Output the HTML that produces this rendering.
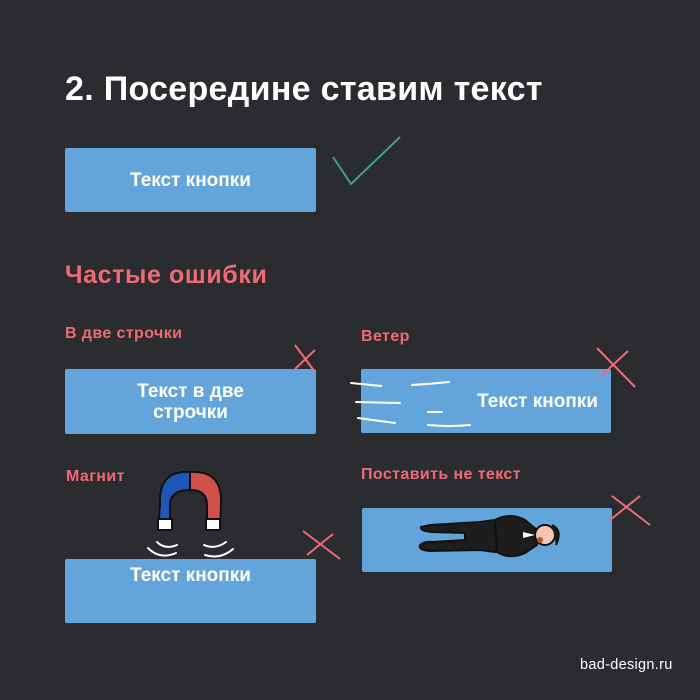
<!DOCTYPE html>
<html><head><meta charset="utf-8"><style>
body{margin:0;width:700px;height:700px;background:#2b2c30;position:relative;overflow:hidden;font-family:"Liberation Sans","DejaVu Sans",sans-serif}
.t{position:absolute;white-space:nowrap;font-weight:bold}
.b{position:absolute;background:#63a5db;border-radius:2px;color:#fff;font-weight:bold;font-size:19px;display:flex;align-items:center;justify-content:center;text-align:center;line-height:21px}
.p{color:#ee6b73;letter-spacing:0.4px}
svg{position:absolute;left:0;top:0}
</style></head><body>
<div class="t" style="left:65px;top:70px;font-size:34px;color:#fff;letter-spacing:0.3px">2. Посередине ставим текст</div>
<div class="b" style="left:65px;top:148px;width:251px;height:64px">Текст кнопки</div>
<div class="t p" style="left:65px;top:261px;font-size:25px;letter-spacing:0.6px">Частые ошибки</div>
<div class="t p" style="left:65px;top:325px;font-size:16px">В две строчки</div>
<div class="b" style="left:65px;top:369px;width:251px;height:65px">Текст в две<br>строчки</div>
<div class="t p" style="left:361px;top:328px;font-size:16px">Ветер</div>
<div class="b" style="left:361px;top:369px;width:250px;height:64px;justify-content:flex-end;padding-right:13px;box-sizing:border-box">Текст кнопки</div>
<div class="t p" style="left:66px;top:468px;font-size:16px">Магнит</div>
<div class="b" style="left:65px;top:559px;width:251px;height:64px;align-items:flex-start;padding-top:6px;box-sizing:border-box">Текст кнопки</div>
<div class="t p" style="left:361px;top:466px;font-size:16px">Поставить не текст</div>
<div class="b" style="left:362px;top:508px;width:250px;height:64px"></div>
<div class="t" style="left:580px;top:657px;font-size:14.5px;color:#fff;font-weight:normal;letter-spacing:0.3px">bad-design.ru</div>
<svg width="700" height="700" fill="none">
<polyline points="333,157 351,184 400,137" stroke="#3aa57f" stroke-width="2"/>
<g stroke="#ee6b73" stroke-width="2">
<line x1="295" y1="345" x2="315" y2="372"/><line x1="315" y1="350" x2="295" y2="369"/>
<line x1="597" y1="348" x2="635" y2="387"/><line x1="628" y1="351" x2="600" y2="377"/>
<line x1="303" y1="531" x2="340" y2="559"/><line x1="307" y1="555" x2="333" y2="534"/>
<line x1="612" y1="496" x2="650" y2="525"/><line x1="610" y1="520" x2="640" y2="496"/>
</g>
<g stroke="#fff" stroke-width="2" stroke-linecap="round">
<path d="M351 383 L381 386"/><path d="M412 385 Q430 384 449 382"/>
<path d="M356 402 L400 403"/><path d="M428 412 L442 412"/>
<path d="M358 418 L395 423"/><path d="M428 425 Q450 427 470 425"/>
<path d="M148 548 Q160 560 176 553"/><path d="M157 542 Q165 550 177 545"/>
<path d="M204 545 Q215 550 226 542"/><path d="M205 555 Q220 560 233 549"/>
</g>
<path d="M170 530 L170 505 Q170 490 190 490 L190 472 Q158 470 160 505 L158 530 Z" fill="#1f56b7" stroke="#111" stroke-width="2"/>
<path d="M190 490 Q207 490 207 505 L207 528 L220 528 L221 505 Q223 470 190 472 Z" fill="#d0504b" stroke="#111" stroke-width="2"/>
<rect x="158" y="519" width="14" height="11" fill="#fff" stroke="#111" stroke-width="2"/>
<rect x="206" y="519" width="14" height="11" fill="#fff" stroke="#111" stroke-width="2"/>
<g stroke="#111" stroke-width="2">
<path d="M430 525 L480 522 L495 520 L505 540 L495 552 L480 550 L430 551 Q418 550 420 545 Q425 541 432 542 L465 540 L465 533 L432 532 Q420 531 421 527 Z" fill="#1d1d1d"/>
<path d="M495 520 Q510 512 525 520 L537 530 L537 545 L525 553 Q510 560 497 552 Z" fill="#1d1d1d"/>
<circle cx="545" cy="535" r="10" fill="#f2c7b6"/>
<path d="M552 525 Q563 530 556 545" fill="#1d1d1d"/>
</g>
<path d="M523 532 L535 535 L523 538 Z" fill="#fff"/>
<circle cx="540" cy="540" r="3" fill="#b5531f"/>
</svg>
</body></html>
